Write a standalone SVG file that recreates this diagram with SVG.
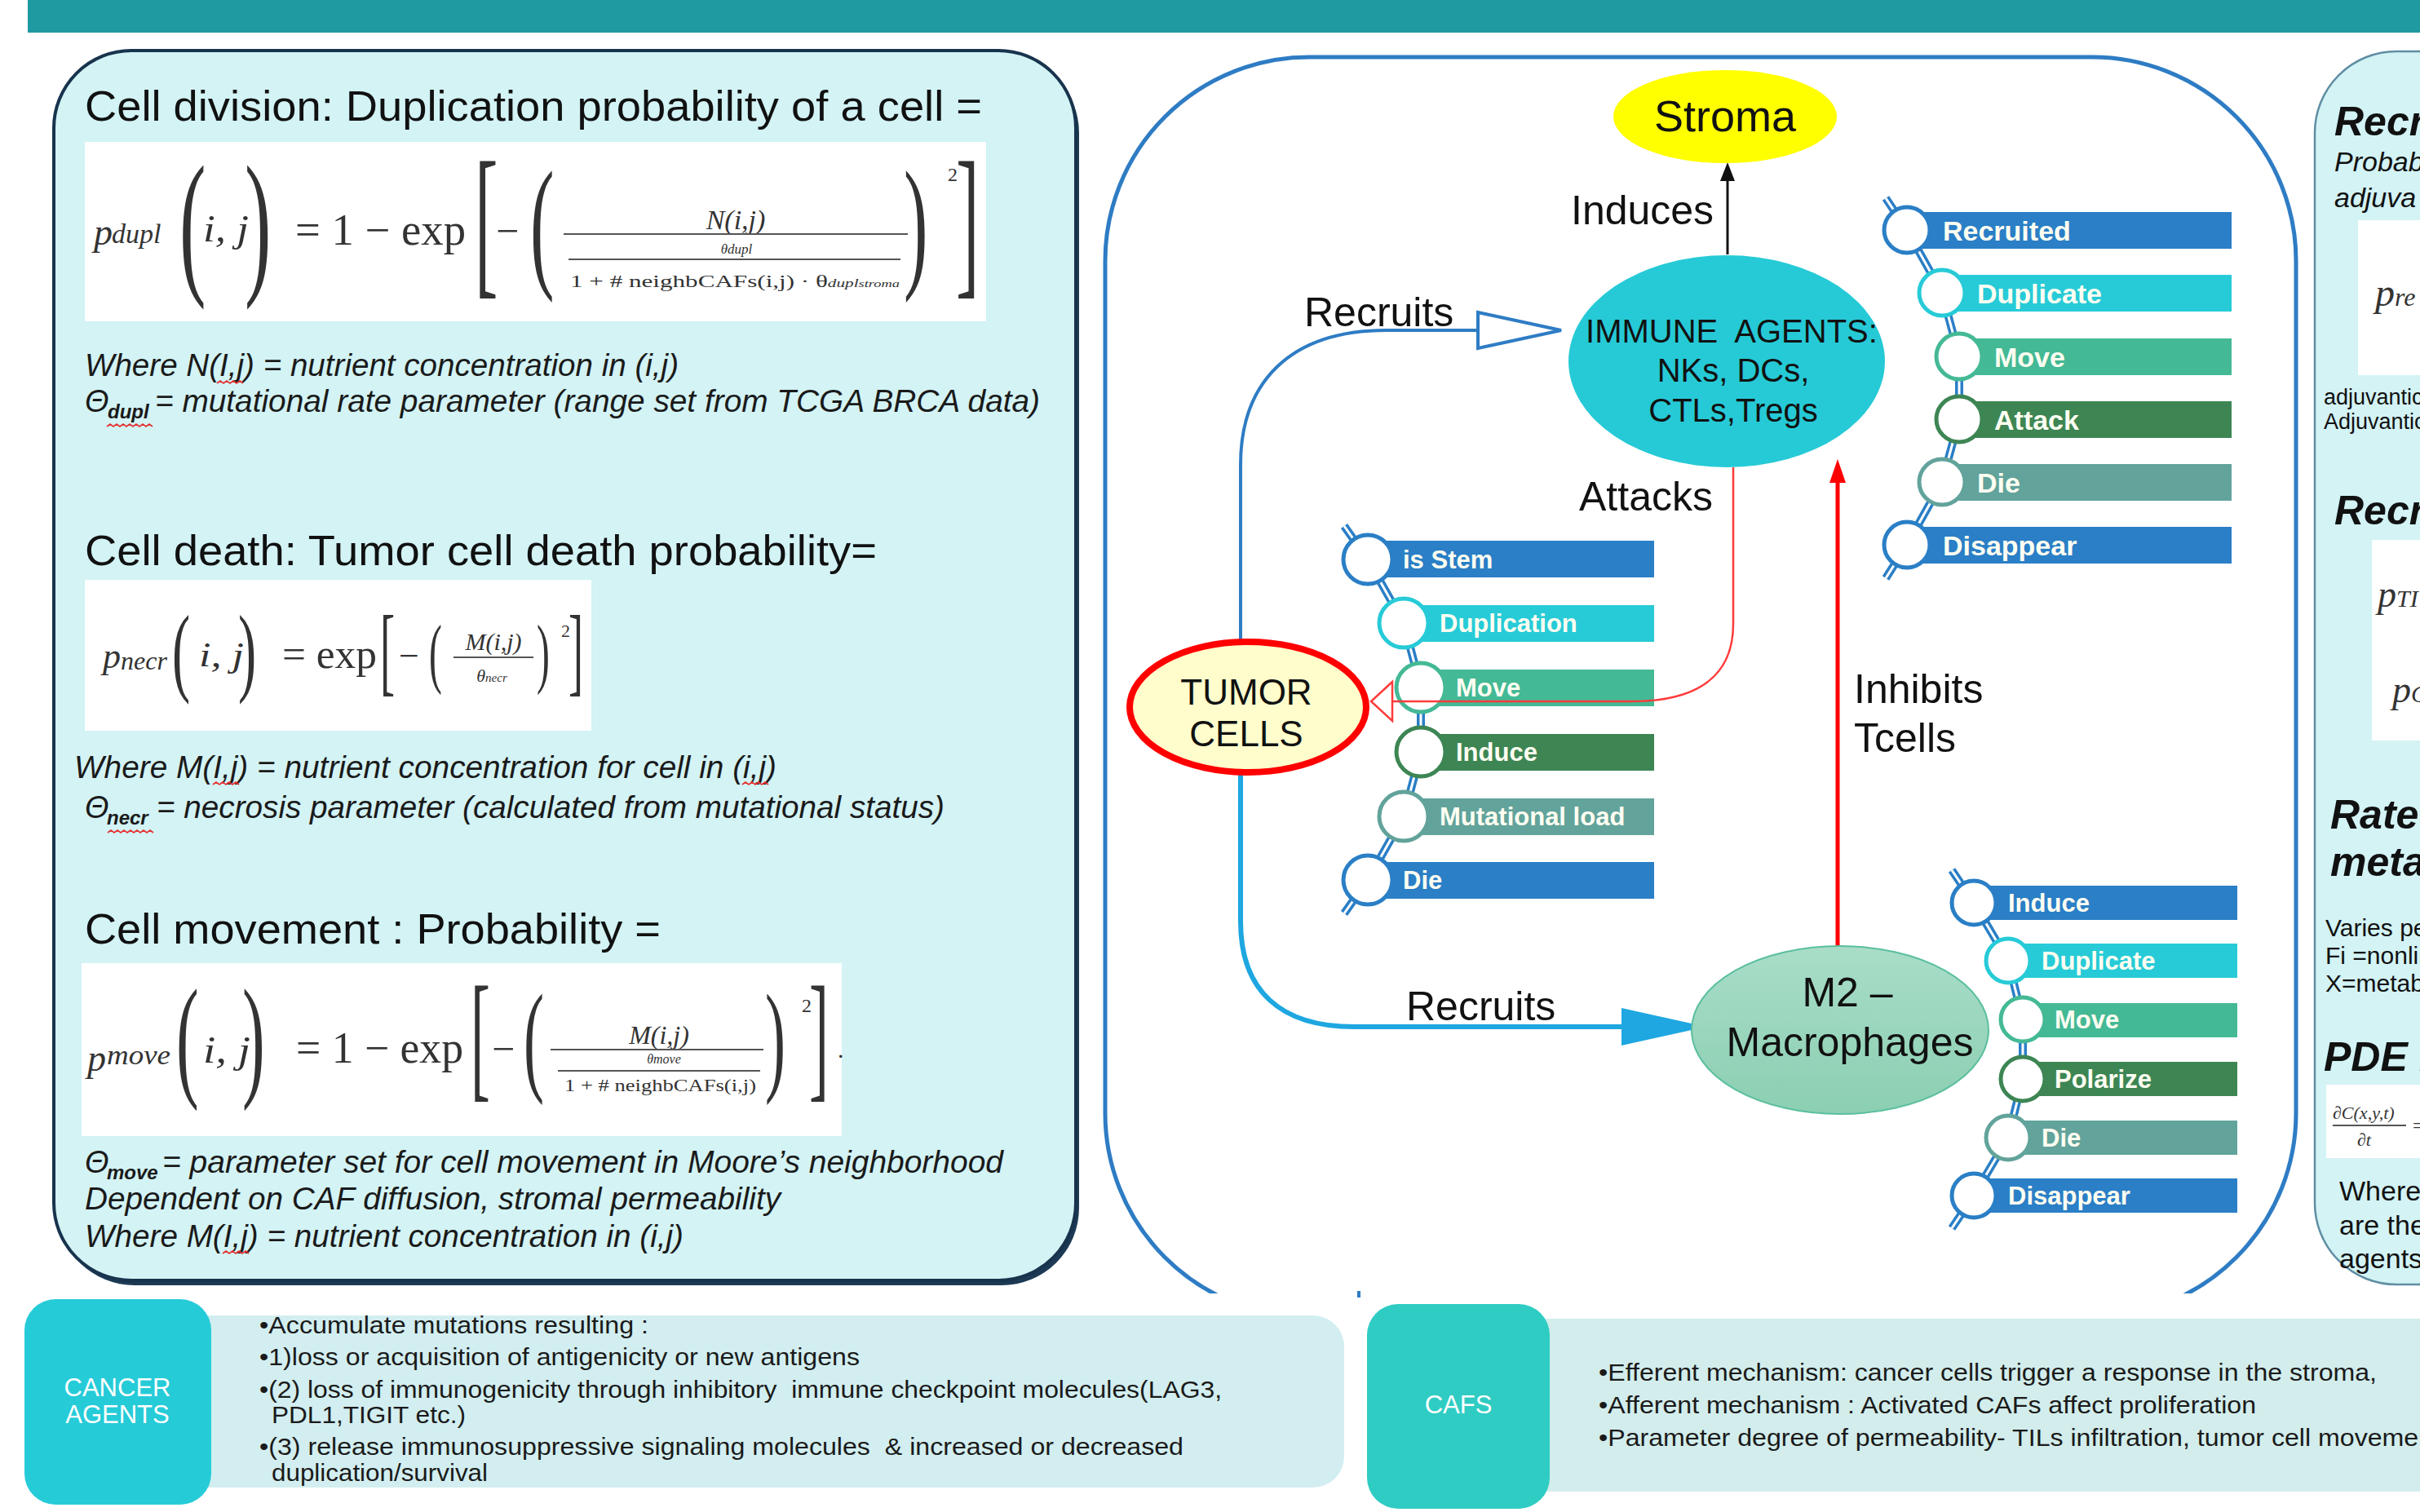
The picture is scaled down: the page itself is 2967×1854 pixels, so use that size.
<svg xmlns="http://www.w3.org/2000/svg" width="2967" height="1854" viewBox="0 0 2967 1854">
<style>
.sans{font-family:"Liberation Sans",Arial,sans-serif}
.serif{font-family:"Liberation Serif","Times New Roman",serif;fill:#333}
.it{font-style:italic}
.bd{font-weight:bold}
.ttl{font-family:"Liberation Sans",Arial,sans-serif;font-size:52px;fill:#111}
.desc{font-family:"Liberation Sans",Arial,sans-serif;font-style:italic;font-size:38px;fill:#1a1a1a}
.sub{font-family:"Liberation Sans",Arial,sans-serif;font-style:italic;font-weight:bold;font-size:24px;fill:#1a1a1a}
.lbl{font-family:"Liberation Sans",Arial,sans-serif;font-size:50px;fill:#111}
.bartxt{font-family:"Liberation Sans",Arial,sans-serif;font-weight:bold;fill:#fffef2}
.bot{font-family:"Liberation Sans",Arial,sans-serif;font-size:30px;fill:#1a1a1a}
.wavy{fill:none;stroke:#e53030;stroke-width:1.6}
.fl{stroke:#555;stroke-width:2}
.rp{font-family:"Liberation Sans",Arial,sans-serif;fill:#111}
</style>
<defs>
<linearGradient id="m2g" x1="0" y1="0" x2="0" y2="1">
<stop offset="0" stop-color="#a9ddc8"/>
<stop offset="1" stop-color="#8bcfb2"/>
</linearGradient>
<clipPath id="panelclip"><rect x="1300" y="0" width="1560" height="1586"/></clipPath>
</defs>
<rect width="2967" height="1854" fill="#ffffff"/>
<!-- top band -->
<rect x="34" y="0" width="2933" height="40" fill="#1f9aa0"/>

<!-- LEFT PANEL -->
<g id="left-panel">
<rect x="70" y="68" width="1253" height="1508" rx="95" fill="#1d3a55"/>
<rect x="66" y="62" width="1253" height="1508" rx="95" fill="#d3f3f5" stroke="#18334d" stroke-width="4"/>
<text class="ttl" x="104" y="148" textLength="1100" lengthAdjust="spacingAndGlyphs">Cell division: Duplication probability of a cell =</text>
<g id="formula-dupl">
<rect x="104" y="174" width="1105" height="220" fill="#ffffff"/>
<text class="serif it" x="115" y="300" font-size="46">p</text>
<text class="serif it" x="137" y="298" font-size="34">dupl</text>
<text class="serif" font-size="195" transform="translate(220,338) scale(0.5,1)">(</text>
<text class="serif it" x="249" y="296" font-size="46" textLength="56" lengthAdjust="spacingAndGlyphs">i, j</text>
<text class="serif" font-size="195" transform="translate(300,338) scale(0.5,1)">)</text>
<text class="serif" x="362" y="300" font-size="54" textLength="209" lengthAdjust="spacingAndGlyphs">= 1 − exp</text>
<text class="serif" font-size="204" transform="translate(582,339) scale(0.42,1)">[</text>
<text class="serif" x="608" y="300" font-size="50">−</text>
<text class="serif" font-size="177" transform="translate(650,333) scale(0.5,1)">(</text>
<text class="serif it" x="902" y="281" font-size="34" text-anchor="middle">N(i,j)</text>
<line class="fl" x1="691" y1="287" x2="1113" y2="287"/>
<text class="serif it" x="903" y="311" font-size="17" text-anchor="middle">θdupl</text>
<line class="fl" x1="697" y1="318" x2="1104" y2="318"/>
<text class="serif" x="699" y="352" font-size="22" textLength="404" lengthAdjust="spacingAndGlyphs">1 + # neighbCAFs(i,j) · θ<tspan class="it" font-size="15">dupl</tspan><tspan class="it" font-size="13">stroma</tspan></text>
<text class="serif" font-size="177" transform="translate(1108,333) scale(0.5,1)">)</text>
<text class="serif" x="1162" y="222" font-size="24">2</text>
<text class="serif" font-size="204" transform="translate(1172,339) scale(0.42,1)">]</text>
</g>
<text class="desc" x="104" y="461" textLength="728" lengthAdjust="spacingAndGlyphs">Where N(I,j) = nutrient concentration in (i,j)</text>
<path class="wavy" d="M266,470 l4,-3 l4,3 l4,-3 l4,3 l4,-3 l4,3 l4,-3 l4,3"/>
<text class="desc" x="104" y="505">Θ</text>
<text class="sub" x="132" y="513">dupl</text>
<text class="desc" x="190" y="505" textLength="1085" lengthAdjust="spacingAndGlyphs">= mutational rate parameter (range set from TCGA BRCA data)</text>
<path class="wavy" d="M131,523 l4,-3 l4,3 l4,-3 l4,3 l4,-3 l4,3 l4,-3 l4,3 l4,-3 l4,3 l4,-3 l4,3 l4,-3 l4,3"/>

<text class="ttl" x="104" y="693" textLength="971" lengthAdjust="spacingAndGlyphs">Cell death: Tumor cell death probability=</text>
<g id="formula-necr">
<rect x="104" y="711" width="621" height="185" fill="#ffffff"/>
<text class="serif it" x="126" y="819" font-size="44">p</text>
<text class="serif it" x="148" y="821" font-size="32">necr</text>
<text class="serif" font-size="121" transform="translate(211,838) scale(0.55,1)">(</text>
<text class="serif it" x="244" y="817" font-size="42" textLength="55" lengthAdjust="spacingAndGlyphs">i, j</text>
<text class="serif" font-size="121" transform="translate(292,838) scale(0.55,1)">)</text>
<text class="serif" x="346" y="819" font-size="50" textLength="116" lengthAdjust="spacingAndGlyphs">= exp</text>
<text class="serif" font-size="121" transform="translate(466,838) scale(0.45,1)">[</text>
<text class="serif" x="489" y="819" font-size="44">−</text>
<text class="serif" font-size="95" transform="translate(526,832) scale(0.5,1)">(</text>
<text class="serif it" x="605" y="797" font-size="30" text-anchor="middle">M(i,j)</text>
<line class="fl" x1="556" y1="806" x2="654" y2="806"/>
<text class="serif it" x="603" y="836" font-size="22" text-anchor="middle">θ<tspan font-size="15">necr</tspan></text>
<text class="serif" font-size="95" transform="translate(658,832) scale(0.5,1)">)</text>
<text class="serif" x="688" y="781" font-size="22">2</text>
<text class="serif" font-size="121" transform="translate(697,838) scale(0.45,1)">]</text>
</g>
<text class="desc" x="91" y="954" textLength="861" lengthAdjust="spacingAndGlyphs">Where M(I,j) = nutrient concentration for cell in (i,j)</text>
<path class="wavy" d="M261,962 l4,-3 l4,3 l4,-3 l4,3 l4,-3 l4,3 l4,-3 l4,3"/>
<path class="wavy" d="M910,962 l4,-3 l4,3 l4,-3 l4,3 l4,-3 l4,3 l4,-3 l4,3"/>
<text class="desc" x="104" y="1003">Θ</text>
<text class="sub" x="131" y="1011">necr</text>
<text class="desc" x="192" y="1003" textLength="966" lengthAdjust="spacingAndGlyphs">= necrosis parameter (calculated from mutational status)</text>
<path class="wavy" d="M132,1021 l4,-3 l4,3 l4,-3 l4,3 l4,-3 l4,3 l4,-3 l4,3 l4,-3 l4,3 l4,-3 l4,3 l4,-3 l4,3"/>

<text class="ttl" x="104" y="1157" textLength="706" lengthAdjust="spacingAndGlyphs">Cell movement : Probability =</text>
<g id="formula-move">
<rect x="100" y="1181" width="932" height="212" fill="#ffffff"/>
<text class="serif it" x="107" y="1313" font-size="46">p</text>
<text class="serif it" x="131" y="1305" font-size="34" textLength="78" lengthAdjust="spacingAndGlyphs">move</text>
<text class="serif" font-size="166" transform="translate(216,1327) scale(0.5,1)">(</text>
<text class="serif it" x="249" y="1303" font-size="46" textLength="58" lengthAdjust="spacingAndGlyphs">i, j</text>
<text class="serif" font-size="166" transform="translate(297,1327) scale(0.5,1)">)</text>
<text class="serif" x="363" y="1303" font-size="54" textLength="205" lengthAdjust="spacingAndGlyphs">= 1 − exp</text>
<text class="serif" font-size="171" transform="translate(577,1328) scale(0.42,1)">[</text>
<text class="serif" x="603" y="1303" font-size="50">−</text>
<text class="serif" font-size="150" transform="translate(642,1323) scale(0.5,1)">(</text>
<text class="serif it" x="808" y="1280" font-size="32" text-anchor="middle">M(i,j)</text>
<line class="fl" x1="675" y1="1287" x2="936" y2="1287"/>
<text class="serif it" x="814" y="1304" font-size="16" text-anchor="middle">θmove</text>
<line class="fl" x1="684" y1="1313" x2="932" y2="1313"/>
<text class="serif" x="692" y="1338" font-size="22" textLength="235" lengthAdjust="spacingAndGlyphs">1 + # neighbCAFs(i,j)</text>
<text class="serif" font-size="150" transform="translate(938,1323) scale(0.5,1)">)</text>
<text class="serif" x="983" y="1241" font-size="24">2</text>
<text class="serif" font-size="171" transform="translate(992,1328) scale(0.42,1)">]</text>
<text class="serif" x="1027" y="1297" font-size="30">.</text>
</g>
<text class="desc" x="104" y="1438">Θ</text>
<text class="sub" x="131" y="1446">move</text>
<text class="desc" x="199" y="1438" textLength="1031" lengthAdjust="spacingAndGlyphs">= parameter set for cell movement in Moore’s neighborhood</text>
<text class="desc" x="104" y="1483" textLength="853" lengthAdjust="spacingAndGlyphs">Dependent on CAF diffusion, stromal permeability</text>
<text class="desc" x="104" y="1529" textLength="734" lengthAdjust="spacingAndGlyphs">Where M(I,j) = nutrient concentration in (i,j)</text>
<path class="wavy" d="M273,1537 l4,-3 l4,3 l4,-3 l4,3 l4,-3 l4,3 l4,-3 l4,3"/>
</g>

<!-- CENTER PANEL FRAME -->
<g id="center-panel">
<rect x="1355" y="70" width="1460" height="1545" rx="250" ry="250" fill="none" stroke="#2e7cc4" stroke-width="5" clip-path="url(#panelclip)"/>
<rect x="1664" y="1583" width="4" height="8" fill="#2e7cc4"/>
</g>

<!-- RIGHT PANEL (partially visible) -->
<g id="right-panel">
<rect x="2838" y="63" width="300" height="1512" rx="100" fill="#d3f3f5" stroke="#5f8ea3" stroke-width="2.5"/>
<text class="rp bd it" x="2862" y="166" font-size="50">Recr</text>
<text class="rp it" x="2862" y="210" font-size="34">Probab</text>
<text class="rp it" x="2862" y="254" font-size="34">adjuva</text>
<rect x="2891" y="270" width="100" height="190" fill="#ffffff"/>
<text class="serif it" x="2912" y="375" font-size="48">p<tspan font-size="32">re</tspan></text>
<text class="rp" x="2849" y="496" font-size="27">adjuvantic</text>
<text class="rp" x="2849" y="526" font-size="27">Adjuvantic</text>
<text class="rp bd it" x="2862" y="643" font-size="50">Recru</text>
<rect x="2908" y="662" width="100" height="246" fill="#ffffff"/>
<text class="serif it" x="2915" y="744" font-size="46">p<tspan font-size="30">TI</tspan></text>
<text class="serif it" x="2933" y="861" font-size="46">p<tspan font-size="30">C</tspan></text>
<text class="rp bd it" x="2857" y="1016" font-size="50">Rate</text>
<text class="rp bd it" x="2857" y="1074" font-size="50">metab</text>
<text class="rp" x="2851" y="1148" font-size="30">Varies pe</text>
<text class="rp" x="2851" y="1182" font-size="30">Fi =nonlin</text>
<text class="rp" x="2851" y="1216" font-size="30">X=metabo</text>
<text class="rp bd it" x="2849" y="1313" font-size="50">PDE F</text>
<rect x="2852" y="1330" width="150" height="90" fill="#ffffff"/>
<text class="serif it" x="2860" y="1372" font-size="22">∂C(x,y,t)</text>
<line class="fl" x1="2860" y1="1380" x2="2950" y2="1380"/>
<text class="serif it" x="2890" y="1405" font-size="22">∂t</text>
<text class="serif" x="2958" y="1388" font-size="24">=</text>
<text class="rp" x="2868" y="1472" font-size="34">Where</text>
<text class="rp" x="2868" y="1514" font-size="34">are the</text>
<text class="rp" x="2868" y="1555" font-size="34">agents,</text>
</g>

<!-- Immune attribute list -->
<g id="immune-list">
<polyline points="2312,243 2338,282 2381,359 2402,437 2402,514 2381,591 2338,668 2312,709" fill="none" stroke="#2a7fc6" stroke-width="10"/>
<polyline points="2312,243 2338,282 2381,359 2402,437 2402,514 2381,591 2338,668 2312,709" fill="none" stroke="#ffffff" stroke-width="3"/>
<rect x="2338" y="260" width="398" height="45" fill="#2a7fc6"/>
<rect x="2381" y="337" width="355" height="45" fill="#27cbd7"/>
<rect x="2402" y="415" width="334" height="45" fill="#44b995"/>
<rect x="2402" y="492" width="334" height="45" fill="#3d8654"/>
<rect x="2381" y="569" width="355" height="45" fill="#62a39b"/>
<rect x="2338" y="646" width="398" height="45" fill="#2a7fc6"/>
<circle cx="2338" cy="282" r="28" fill="#ffffff" stroke="#2a7fc6" stroke-width="5"/>
<circle cx="2381" cy="359" r="28" fill="#ffffff" stroke="#27cbd7" stroke-width="5"/>
<circle cx="2402" cy="437" r="28" fill="#ffffff" stroke="#44b995" stroke-width="5"/>
<circle cx="2402" cy="514" r="28" fill="#ffffff" stroke="#3d8654" stroke-width="5"/>
<circle cx="2381" cy="591" r="28" fill="#ffffff" stroke="#62a39b" stroke-width="5"/>
<circle cx="2338" cy="668" r="28" fill="#ffffff" stroke="#2a7fc6" stroke-width="5"/>
<text class="bartxt" x="2382" y="295" font-size="34">Recruited</text>
<text class="bartxt" x="2424" y="372" font-size="34">Duplicate</text>
<text class="bartxt" x="2445" y="450" font-size="34">Move</text>
<text class="bartxt" x="2445" y="527" font-size="34">Attack</text>
<text class="bartxt" x="2424" y="604" font-size="34">Die</text>
<text class="bartxt" x="2382" y="681" font-size="34">Disappear</text>
</g>

<!-- Tumor attribute list -->
<g id="tumor-list">
<polyline points="1648,645 1677,686 1721,764 1742,843 1742,922 1721,1001 1677,1079 1648,1120" fill="none" stroke="#2a7fc6" stroke-width="10"/>
<polyline points="1648,645 1677,686 1721,764 1742,843 1742,922 1721,1001 1677,1079 1648,1120" fill="none" stroke="#ffffff" stroke-width="3"/>
<rect x="1677" y="663" width="351" height="45" fill="#2a7fc6"/>
<rect x="1721" y="742" width="307" height="45" fill="#27cbd7"/>
<rect x="1742" y="821" width="286" height="45" fill="#44b995"/>
<rect x="1742" y="900" width="286" height="45" fill="#3d8654"/>
<rect x="1721" y="979" width="307" height="45" fill="#62a39b"/>
<rect x="1677" y="1057" width="351" height="45" fill="#2a7fc6"/>
<circle cx="1677" cy="686" r="30" fill="#ffffff" stroke="#2a7fc6" stroke-width="5"/>
<circle cx="1721" cy="764" r="30" fill="#ffffff" stroke="#27cbd7" stroke-width="5"/>
<circle cx="1742" cy="843" r="30" fill="#ffffff" stroke="#44b995" stroke-width="5"/>
<circle cx="1742" cy="922" r="30" fill="#ffffff" stroke="#3d8654" stroke-width="5"/>
<circle cx="1721" cy="1001" r="30" fill="#ffffff" stroke="#62a39b" stroke-width="5"/>
<circle cx="1677" cy="1079" r="30" fill="#ffffff" stroke="#2a7fc6" stroke-width="5"/>
<text class="bartxt" x="1720" y="697" font-size="31">is Stem</text>
<text class="bartxt" x="1765" y="775" font-size="31">Duplication</text>
<text class="bartxt" x="1785" y="854" font-size="31">Move</text>
<text class="bartxt" x="1785" y="933" font-size="31">Induce</text>
<text class="bartxt" x="1765" y="1012" font-size="31">Mutational load</text>
<text class="bartxt" x="1720" y="1090" font-size="31">Die</text>
</g>

<!-- Macrophage attribute list -->
<g id="macrophage-list">
<polyline points="2393,1067 2420,1107 2462,1178 2480,1250 2480,1323 2462,1395 2420,1466 2393,1506" fill="none" stroke="#2a7fc6" stroke-width="10"/>
<polyline points="2393,1067 2420,1107 2462,1178 2480,1250 2480,1323 2462,1395 2420,1466 2393,1506" fill="none" stroke="#ffffff" stroke-width="3"/>
<rect x="2420" y="1086" width="323" height="42" fill="#2a7fc6"/>
<rect x="2462" y="1157" width="281" height="42" fill="#27cbd7"/>
<rect x="2480" y="1230" width="263" height="42" fill="#44b995"/>
<rect x="2480" y="1302" width="263" height="42" fill="#3d8654"/>
<rect x="2462" y="1374" width="281" height="42" fill="#62a39b"/>
<rect x="2420" y="1445" width="323" height="42" fill="#2a7fc6"/>
<circle cx="2420" cy="1107" r="27" fill="#ffffff" stroke="#2a7fc6" stroke-width="5"/>
<circle cx="2462" cy="1178" r="27" fill="#ffffff" stroke="#27cbd7" stroke-width="5"/>
<circle cx="2480" cy="1250" r="27" fill="#ffffff" stroke="#44b995" stroke-width="5"/>
<circle cx="2480" cy="1323" r="27" fill="#ffffff" stroke="#3d8654" stroke-width="5"/>
<circle cx="2462" cy="1395" r="27" fill="#ffffff" stroke="#62a39b" stroke-width="5"/>
<circle cx="2420" cy="1466" r="27" fill="#ffffff" stroke="#2a7fc6" stroke-width="5"/>
<text class="bartxt" x="2462" y="1118" font-size="31">Induce</text>
<text class="bartxt" x="2503" y="1189" font-size="31">Duplicate</text>
<text class="bartxt" x="2519" y="1261" font-size="31">Move</text>
<text class="bartxt" x="2519" y="1334" font-size="31">Polarize</text>
<text class="bartxt" x="2503" y="1406" font-size="31">Die</text>
<text class="bartxt" x="2462" y="1477" font-size="31">Disappear</text>
</g>

<!-- CONNECTORS -->
<g id="connectors" fill="none">
<!-- Induces -->
<line x1="2118" y1="312" x2="2118" y2="218" stroke="#111" stroke-width="3"/>
<polygon points="2118,199 2109,222 2127,222" fill="#111"/>
<!-- Recruits to immune -->
<path d="M1521,787 L1521,570 C1521,470 1580,405 1700,405 L1812,405" stroke="#2e7cc4" stroke-width="4"/>
<polygon points="1812,383 1914,405 1812,427" fill="#ffffff" stroke="#2e7cc4" stroke-width="4"/>
<!-- Attacks -->
<path d="M2125,573 L2125,765 C2125,830 2080,860 2000,860 L1707,860" stroke="#ff3b3b" stroke-width="2.5"/>
<polygon points="1707,836 1681,860 1707,884" fill="#ffffff" stroke="#ff3b3b" stroke-width="2.5"/>
<!-- Inhibits Tcells -->
<line x1="2253" y1="1160" x2="2253" y2="588" stroke="#ff0000" stroke-width="5"/>
<polygon points="2253,563 2243,592 2263,592" fill="#ff0000"/>
<!-- Recruits to M2 -->
<path d="M1521,950 L1521,1130 C1521,1215 1570,1259 1660,1259 L1992,1259" stroke="#1ea7e0" stroke-width="6"/>
<polygon points="1988,1236 2092,1259 1988,1282" fill="#1ea7e0"/>
</g>

<!-- NODES -->
<g id="stroma">
<ellipse cx="2115" cy="143" rx="137" ry="57" fill="#ffff00"/>
<text class="sans" x="2115" y="161" font-size="54" text-anchor="middle" fill="#111">Stroma</text>
</g>
<g id="immune-agents">
<ellipse cx="2117" cy="443" rx="194" ry="130" fill="#26cad6"/>
<text class="sans" x="2123" y="420" font-size="40" text-anchor="middle" fill="#111" style="white-space:pre">IMMUNE  AGENTS:</text>
<text class="sans" x="2125" y="468" font-size="40" text-anchor="middle" fill="#111">NKs, DCs,</text>
<text class="sans" x="2125" y="517" font-size="40" text-anchor="middle" fill="#111">CTLs,Tregs</text>
</g>
<g id="tumor-cells">
<ellipse cx="1530" cy="867" rx="145" ry="80" fill="#fffdcc" stroke="#ff0000" stroke-width="8"/>
<text class="sans" x="1528" y="864" font-size="44" text-anchor="middle" fill="#111">TUMOR</text>
<text class="sans" x="1528" y="915" font-size="44" text-anchor="middle" fill="#111">CELLS</text>
</g>
<g id="m2-macrophages">
<ellipse cx="2256" cy="1263" rx="182" ry="103" fill="url(#m2g)" stroke="#5bbf9f" stroke-width="2"/>
<text class="sans" x="2265" y="1234" font-size="50" text-anchor="middle" fill="#111">M2 –</text>
<text class="sans" x="2268" y="1295" font-size="50" text-anchor="middle" fill="#111">Macrophages</text>
</g>
<g id="labels">
<text class="lbl" x="1926" y="275">Induces</text>
<text class="lbl" x="1599" y="400">Recruits</text>
<text class="lbl" x="1936" y="626">Attacks</text>
<text class="lbl" x="2273" y="862">Inhibits</text>
<text class="lbl" x="2273" y="922">Tcells</text>
<text class="lbl" x="1724" y="1251">Recruits</text>
</g>

<!-- BOTTOM: CANCER AGENTS -->
<g id="cancer-agents">
<rect x="220" y="1613" width="1428" height="211" rx="38" fill="#d2eef0"/>
<rect x="30" y="1593" width="229" height="252" rx="38" fill="#26cbd8"/>
<text class="sans" x="144" y="1712" font-size="31" text-anchor="middle" fill="#ffffff">CANCER</text>
<text class="sans" x="144" y="1745" font-size="31" text-anchor="middle" fill="#ffffff">AGENTS</text>
<text class="bot" x="318" y="1635" textLength="477" lengthAdjust="spacingAndGlyphs">•Accumulate mutations resulting :</text>
<text class="bot" x="318" y="1674" textLength="736" lengthAdjust="spacingAndGlyphs">•1)loss or acquisition of antigenicity or new antigens</text>
<text class="bot" x="318" y="1714" textLength="1180" lengthAdjust="spacingAndGlyphs" style="white-space:pre">•(2) loss of immunogenicity through inhibitory  immune checkpoint molecules(LAG3,</text>
<text class="bot" x="333" y="1745" textLength="238" lengthAdjust="spacingAndGlyphs">PDL1,TIGIT etc.)</text>
<text class="bot" x="318" y="1784" textLength="1133" lengthAdjust="spacingAndGlyphs" style="white-space:pre">•(3) release immunosuppressive signaling molecules  &amp; increased or decreased</text>
<text class="bot" x="333" y="1816" textLength="265" lengthAdjust="spacingAndGlyphs">duplication/survival</text>
</g>

<!-- BOTTOM: CAFS -->
<g id="cafs">
<rect x="1860" y="1617" width="1200" height="212" fill="#d2edec"/>
<rect x="1676" y="1599" width="224" height="251" rx="38" fill="#2fccc3"/>
<text class="sans" x="1788" y="1733" font-size="31" text-anchor="middle" fill="#ffffff">CAFS</text>
<text class="bot" x="1960" y="1693" textLength="954" lengthAdjust="spacingAndGlyphs">•Efferent mechanism: cancer cells trigger a response in the stroma,</text>
<text class="bot" x="1960" y="1733" textLength="806" lengthAdjust="spacingAndGlyphs">•Afferent mechanism : Activated CAFs affect proliferation</text>
<text class="bot" x="1960" y="1773" textLength="1032" lengthAdjust="spacingAndGlyphs">•Parameter degree of permeability- TILs infiltration, tumor cell movement</text>
</g>
</svg>
